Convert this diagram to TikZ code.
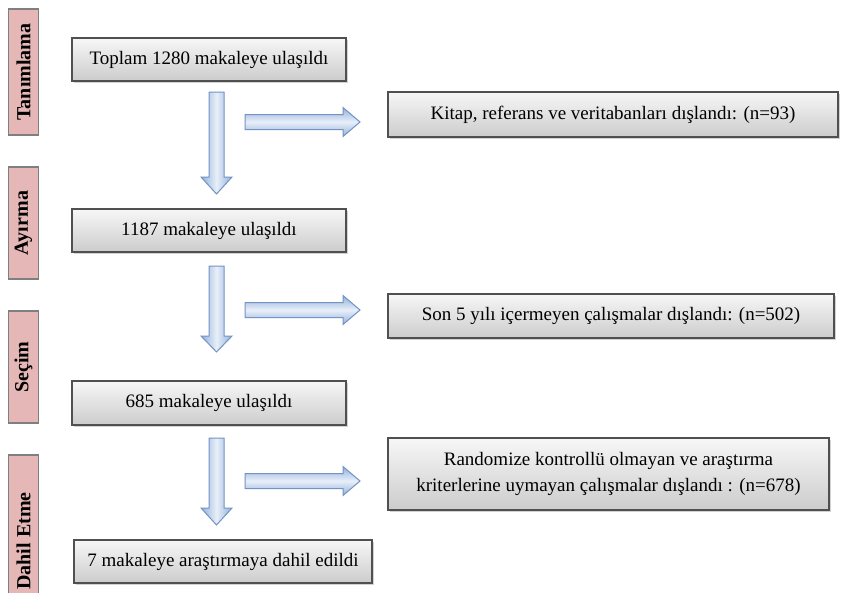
\documentclass[tikz,border=0pt]{standalone}
\usepackage{fontspec}
\setmainfont{Liberation Serif}
\usetikzlibrary{shadows}
\definecolor{pinkfill}{HTML}{E5B8B7}
\definecolor{pinkline}{HTML}{7F7F7F}
\definecolor{boxline}{HTML}{505050}
\definecolor{boxtop}{HTML}{F7F7F7}
\definecolor{boxbot}{HTML}{CCCCCC}
\definecolor{arrline}{HTML}{7393C4}
\definecolor{arrdark}{HTML}{92B0DC}
\definecolor{arrlight}{HTML}{E8EFF9}
\tikzset{
  stage/.style={draw=pinkline, line width=1.6pt, fill=pinkfill, rotate=90,
    minimum height=30pt, inner sep=0pt, font=\bfseries\fontsize{20}{22}\selectfont},
  mainbox/.style={draw=boxline, line width=1.2pt, top color=boxtop, bottom color=boxbot,
    drop shadow={shadow xshift=2pt, shadow yshift=-2pt, opacity=0.35},
    inner sep=2pt, font=\fontsize{19}{26}\selectfont, align=center},
  downarrow/.style={draw=arrline, line width=1pt, line join=miter,
    left color=arrdark, right color=arrdark, middle color=arrlight},
  rightarrow/.style={draw=arrline, line width=1pt, line join=miter,
    top color=arrdark, bottom color=arrdark, middle color=arrlight},
}
\begin{document}
\begin{tikzpicture}[x=1pt, y=-1pt]
\useasboundingbox (0,0) rectangle (841,592);
\fill[white] (0,0) rectangle (841,592);
% stage labels
\node[stage, minimum width=126pt] (s1) at (23.5,72) {Tanımlama};
\node[stage, minimum width=112pt] (s2) at (23.5,223) {Ayırma};
\node[stage, minimum width=112pt] (s3) at (23.5,367) {Seçim};
\node[stage, minimum width=172pt] (s4) at (23.5,541) {Dahil Etme};
% main boxes
\node[mainbox, minimum width=274pt, minimum height=43pt] (m1) at (209,59.5) {Toplam 1280 makaleye ulaşıldı};
\node[mainbox, minimum width=274pt, minimum height=43pt] (m2) at (209,230.5) {1187 makaleye ulaşıldı};
\node[mainbox, minimum width=274pt, minimum height=44pt] (m3) at (209,403) {685 makaleye ulaşıldı};
\node[mainbox, minimum width=298pt, minimum height=43pt] (m4) at (223,561.5) {7 makaleye araştırmaya dahil edildi};
% side boxes
\node[mainbox, minimum width=450pt, minimum height=45pt] (e1) at (613,114.5) {Kitap, referans ve veritabanları dışlandı: (n=93)};
\node[mainbox, minimum width=446pt, minimum height=44pt] (e2) at (611,316) {Son 5 yılı içermeyen çalışmalar dışlandı: (n=502)};
\node[mainbox, minimum width=441pt, minimum height=72pt] (e3) at (608.5,474) {Randomize kontrollü olmayan ve araştırma\\kriterlerine uymayan çalışmalar dışlandı : (n=678)};
% down arrows
\draw[downarrow] (209,92) -- (224,92) -- (224,177) -- (232,177) -- (216.5,194) -- (201,177) -- (209,177) -- cycle;
\draw[downarrow] (209,266) -- (224,266) -- (224,336) -- (232,336) -- (216.5,352) -- (201,336) -- (209,336) -- cycle;
\draw[downarrow] (209,438) -- (224,438) -- (224,508) -- (232,508) -- (216.5,525) -- (201,508) -- (209,508) -- cycle;
% right arrows
\draw[rightarrow] (245,114.5) -- (343,114.5) -- (343,107.5) -- (360,122) -- (343,136.5) -- (343,129.5) -- (245,129.5) -- cycle;
\draw[rightarrow] (245,302.5) -- (343,302.5) -- (343,295.5) -- (360,310) -- (343,324.5) -- (343,317.5) -- (245,317.5) -- cycle;
\draw[rightarrow] (245,473.5) -- (343,473.5) -- (343,466.5) -- (360,481) -- (343,495.5) -- (343,488.5) -- (245,488.5) -- cycle;
\end{tikzpicture}
\end{document}
